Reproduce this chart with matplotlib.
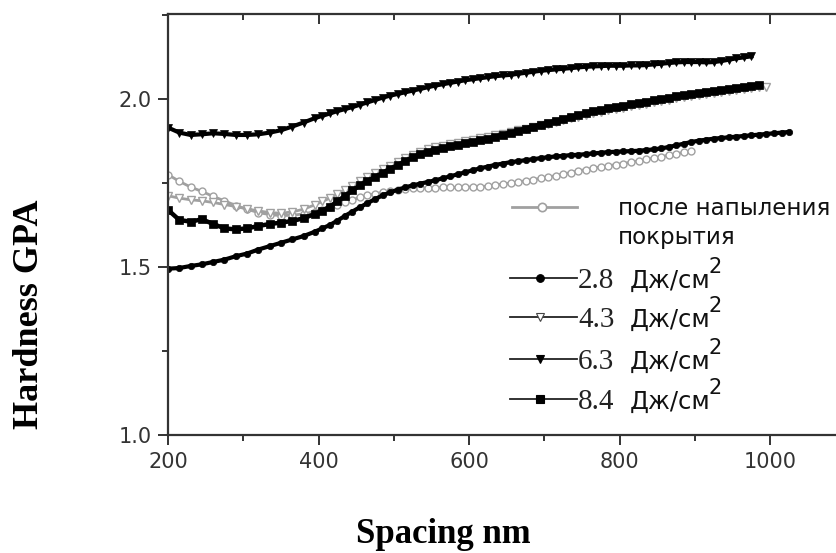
import matplotlib
matplotlib.use('Agg')
import matplotlib.pyplot as plt
from matplotlib.lines import Line2D
from matplotlib.ticker import MultipleLocator, FormatStrFormatter

# depth grid, nm (coarser at the start, as in the measurement)
depth = [200, 215, 230, 245, 260, 275, 290, 305, 320, 335, 350, 365, 380, 395,
         405, 415, 425, 435, 445, 455, 465, 475, 485, 495, 505, 515, 525, 535,
         545, 555, 565, 575, 585, 595, 605, 615, 625, 635, 645, 655, 665, 675,
         685, 695, 705, 715, 725, 735, 745, 755, 765, 775, 785, 795, 805, 815,
         825, 835, 845, 855, 865, 875, 885, 895, 905, 915, 925, 935, 945, 955,
         965, 975, 985, 995, 1005, 1015, 1025]

# hardness, GPa
h_coated = [1.775, 1.755, 1.738, 1.725, 1.710, 1.697, 1.683, 1.672, 1.662, 1.656,
            1.653, 1.654, 1.658, 1.665, 1.671, 1.678, 1.685, 1.693, 1.700, 1.707,
            1.713, 1.718, 1.722, 1.726, 1.729, 1.732, 1.734, 1.735, 1.736, 1.736,
            1.737, 1.737, 1.737, 1.738, 1.738, 1.739, 1.741, 1.744, 1.747, 1.750,
            1.753, 1.757, 1.760, 1.764, 1.768, 1.772, 1.777, 1.781, 1.786, 1.790,
            1.794, 1.798, 1.801, 1.805, 1.808, 1.812, 1.816, 1.820, 1.824, 1.828,
            1.833, 1.837, 1.841, 1.845]

h_28 = [1.495, 1.497, 1.503, 1.508, 1.515, 1.522, 1.532, 1.540, 1.552, 1.562,
        1.572, 1.582, 1.592, 1.605, 1.615, 1.625, 1.638, 1.652, 1.665, 1.678,
        1.690, 1.702, 1.713, 1.722, 1.730, 1.737, 1.743, 1.748, 1.753, 1.758,
        1.764, 1.770, 1.776, 1.782, 1.788, 1.794, 1.799, 1.804, 1.808, 1.812,
        1.815, 1.818, 1.821, 1.824, 1.827, 1.829, 1.831, 1.833, 1.834, 1.836,
        1.838, 1.840, 1.842, 1.843, 1.844, 1.845, 1.846, 1.848, 1.850, 1.853,
        1.857, 1.862, 1.867, 1.872, 1.876, 1.879, 1.882, 1.884, 1.886, 1.888,
        1.890, 1.892, 1.894, 1.896, 1.898, 1.900, 1.902]

h_43 = [1.712, 1.705, 1.700, 1.697, 1.692, 1.686, 1.680, 1.673, 1.667, 1.662,
        1.660, 1.664, 1.672, 1.685, 1.695, 1.705, 1.717, 1.730, 1.742, 1.755,
        1.767, 1.779, 1.791, 1.802, 1.813, 1.824, 1.834, 1.843, 1.850, 1.856,
        1.861, 1.866, 1.870, 1.875, 1.879, 1.883, 1.887, 1.892, 1.897, 1.902,
        1.907, 1.912, 1.917, 1.922, 1.927, 1.932, 1.937, 1.942, 1.947, 1.952,
        1.957, 1.962, 1.966, 1.970, 1.974, 1.978, 1.982, 1.986, 1.990, 1.994,
        1.998, 2.002, 2.006, 2.010, 2.013, 2.016, 2.019, 2.022, 2.025, 2.028,
        2.031, 2.033, 2.035, 2.037]

h_63 = [1.915, 1.900, 1.893, 1.895, 1.898, 1.896, 1.893, 1.893, 1.895, 1.900,
        1.907, 1.918, 1.930, 1.943, 1.950, 1.957, 1.964, 1.970, 1.976, 1.983,
        1.990, 1.997, 2.004, 2.010, 2.015, 2.020, 2.025, 2.030, 2.035, 2.040,
        2.044, 2.048, 2.052, 2.056, 2.059, 2.062, 2.065, 2.068, 2.070, 2.072,
        2.075, 2.078, 2.081, 2.084, 2.086, 2.088, 2.090, 2.092, 2.094, 2.096,
        2.097, 2.098, 2.099, 2.099, 2.099, 2.100, 2.100, 2.101, 2.103, 2.105,
        2.107, 2.109, 2.110, 2.110, 2.110, 2.109, 2.110, 2.113, 2.117, 2.121,
        2.124, 2.127]

h_84 = [1.670, 1.640, 1.635, 1.642, 1.628, 1.615, 1.612, 1.615, 1.622, 1.628,
        1.632, 1.637, 1.645, 1.658, 1.668, 1.680, 1.695, 1.712, 1.728, 1.743,
        1.756, 1.768, 1.780, 1.792, 1.803, 1.815, 1.826, 1.836, 1.843, 1.849,
        1.854, 1.859, 1.864, 1.868, 1.873, 1.877, 1.882, 1.888, 1.894, 1.900,
        1.906, 1.912, 1.918, 1.924, 1.929, 1.935, 1.940, 1.946, 1.951, 1.957,
        1.963, 1.968, 1.972, 1.976, 1.980, 1.985, 1.989, 1.992, 1.996, 2.000,
        2.004, 2.008, 2.012, 2.016, 2.019, 2.022, 2.025, 2.028, 2.031, 2.034,
        2.037, 2.040, 2.043]

coated_label = ['после напыления', 'покрытия']
fluence_labels = ['2.8', '4.3', '6.3', '8.4']
unit_label = 'Дж/см'

W, H = 836, 553
GRAY = '#a0a0a0'
AX_COL = '#333333'


def fx(px):
    return px / W


def fy(py):
    return 1 - py / H


fig = plt.figure(figsize=(W / 100, H / 100), dpi=100)
ax = fig.add_axes([fx(168), fy(435), fx(838) - fx(168), fy(14) - fy(435)])

# gray curves first, black on top
series = [
    (h_coated, dict(color=GRAY, lw=2.0, marker='o', mfc='white', mec=GRAY, ms=5, mew=1.0)),
    (h_43, dict(color=GRAY, lw=2.0, marker='v', mfc='white', mec=GRAY, ms=5.5, mew=1.0)),
    (h_28, dict(color='black', lw=3.0, marker='o', mfc='black', mec='black', ms=4.6, mew=0.5)),
    (h_63, dict(color='black', lw=3.0, marker='v', mfc='black', mec='black', ms=5.6, mew=0.5)),
    (h_84, dict(color='black', lw=3.2, marker='s', mfc='black', mec='black', ms=5.2, mew=0.5)),
]
for vals, style in series:
    ax.plot(depth[:len(vals)], vals, **style)

ax.set_xlim(200, 1090)
ax.set_ylim(1.0, 2.253)
ax.xaxis.set_major_locator(MultipleLocator(200))
ax.xaxis.set_minor_locator(MultipleLocator(100))
ax.yaxis.set_major_locator(MultipleLocator(0.5))
ax.yaxis.set_minor_locator(MultipleLocator(0.25))
ax.yaxis.set_major_formatter(FormatStrFormatter('%.1f'))

for sp in ax.spines.values():
    sp.set_color(AX_COL)
    sp.set_linewidth(1.6)

ax.tick_params(which='both', top=True, right=True, color=AX_COL, width=1.4,
               labelsize=15, labelcolor=AX_COL)
ax.tick_params(axis='x', which='major', direction='out', length=7.5, pad=5)
ax.tick_params(axis='x', which='minor', direction='out', length=4)
ax.tick_params(axis='y', which='major', direction='out', length=7.5, pad=4)
ax.tick_params(axis='y', which='minor', direction='out', length=4)
# top / right ticks point inward
for t in ax.xaxis.get_major_ticks():
    t.tick2line.set_marker(3)
    t.tick2line.set_markersize(7)
for t in ax.xaxis.get_minor_ticks():
    t.tick2line.set_marker(3)
    t.tick2line.set_markersize(4.5)
for t in ax.yaxis.get_major_ticks() + ax.yaxis.get_minor_ticks():
    t.tick2line.set_marker(1)
    t.tick2line.set_markersize(4)

fig.text(fx(30), fy(314), 'Hardness GPA', rotation=90, ha='center', va='center',
         family='Liberation Serif', weight='bold', fontsize=26)
fig.text(fx(443), fy(543), 'Spacing nm', ha='center', va='baseline',
         family='Liberation Serif', weight='bold', fontsize=25)

# legend drawn by hand: gray first entry, then four black entries
fig.add_artist(Line2D([fx(512), fx(577)], [fy(207), fy(207)], color=GRAY, lw=2,
                      transform=fig.transFigure))
fig.add_artist(Line2D([fx(542)], [fy(207)], color=GRAY, marker='o', mfc='white',
                      mec=GRAY, ms=6, mew=1.2, transform=fig.transFigure))
fig.text(fx(618), fy(215), coated_label[0], ha='left', va='baseline',
         fontsize=16.5, color='#111111')
fig.text(fx(618), fy(244), coated_label[1], ha='left', va='baseline',
         fontsize=16.5, color='#111111')

row_base = [288, 327, 369, 409]
row_mark = ['o', 'v', 'v', 's']
row_face = ['black', 'white', 'black', 'black']
for lab, base, mk, fc in zip(fluence_labels, row_base, row_mark, row_face):
    yl = base - 10
    fig.add_artist(Line2D([fx(510), fx(577)], [fy(yl), fy(yl)], color='#222222',
                          lw=1.3, transform=fig.transFigure))
    fig.add_artist(Line2D([fx(540)], [fy(yl)], color='black', marker=mk, mfc=fc,
                          mec='#444444' if fc == 'white' else 'black', ms=5.5,
                          mew=0.8, transform=fig.transFigure))
    fig.text(fx(578), fy(base), lab, ha='left', va='baseline',
             family='Liberation Serif', fontsize=21, color='#222222')
    fig.text(fx(630), fy(base), unit_label, ha='left', va='baseline',
             fontsize=17.5, color='#111111')
    fig.text(fx(709), fy(base - 15), '2', ha='left', va='baseline',
             fontsize=15, color='#111111')

fig.savefig('out.png', dpi=100)
